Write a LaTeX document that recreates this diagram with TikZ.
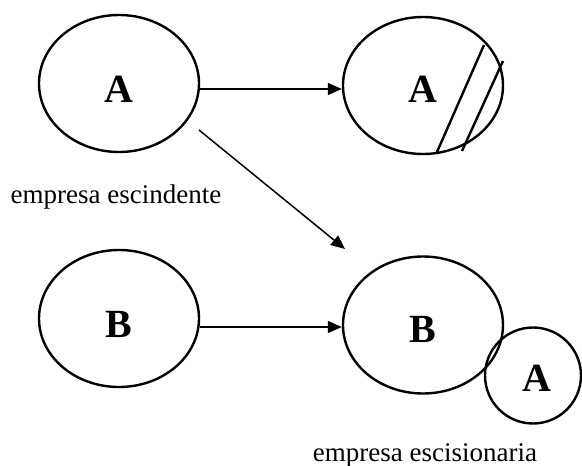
\documentclass[tikz,border=0pt]{standalone}
\usepackage{fontspec}
\setmainfont{Liberation Serif}
\usetikzlibrary{shapes.geometric,arrows.meta}
\begin{document}
\begin{tikzpicture}[x=1pt,y=-1pt,
  ent/.style={ellipse,draw,line width=2.4pt,minimum width=160pt,minimum height=137pt,inner sep=0pt},
  smallent/.style={circle,draw,line width=2.4pt,minimum size=96pt,inner sep=0pt},
  letter/.style={font=\fontsize{40}{40}\selectfont\bfseries,inner sep=0pt,anchor=base},
  caption/.style={font=\fontsize{27}{30}\selectfont,inner sep=0pt,anchor=base},
  arr/.style={line width=1.5pt,-{Triangle[length=14pt,width=12pt]}},
  hatch/.style={line width=2.4pt}]
\useasboundingbox (0,0) rectangle (582,466);
\node[ent] (a1) at (119,83.5) {};
\node[ent] (a2) at (423,85.5) {};
\node[ent] (b1) at (119,318.5) {};
\node[ent] (b2) at (423,325) {};
\node[smallent] (c) at (533,375.5) {};
\node[letter] (la1) at (119,102) {A};
\node[letter] (la2) at (423,102.5) {A};
\node[letter] (lb1) at (119,337) {B};
\node[letter] (lb2) at (423,342.5) {B};
\node[letter] (lc) at (537,391.5) {A};
\node[caption] (t1) at (116,203) {empresa escindente};
\node[caption] (t2) at (425,461) {empresa escisionaria};
\draw[hatch] (437,152) -- (484,45);
\draw[hatch] (462,151) -- (503,61);
\draw[arr] ([yshift=-5.5pt]a1.east) -- ([yshift=-3.5pt]a2.west);
\draw[arr] ([yshift=-8.5pt]b1.east) -- ([yshift=-2pt]b2.west);
\coordinate (d0) at (199,130);
\coordinate (d1) at (345,249);
\draw[arr] (d0) -- (d1);
\end{tikzpicture}
\end{document}
